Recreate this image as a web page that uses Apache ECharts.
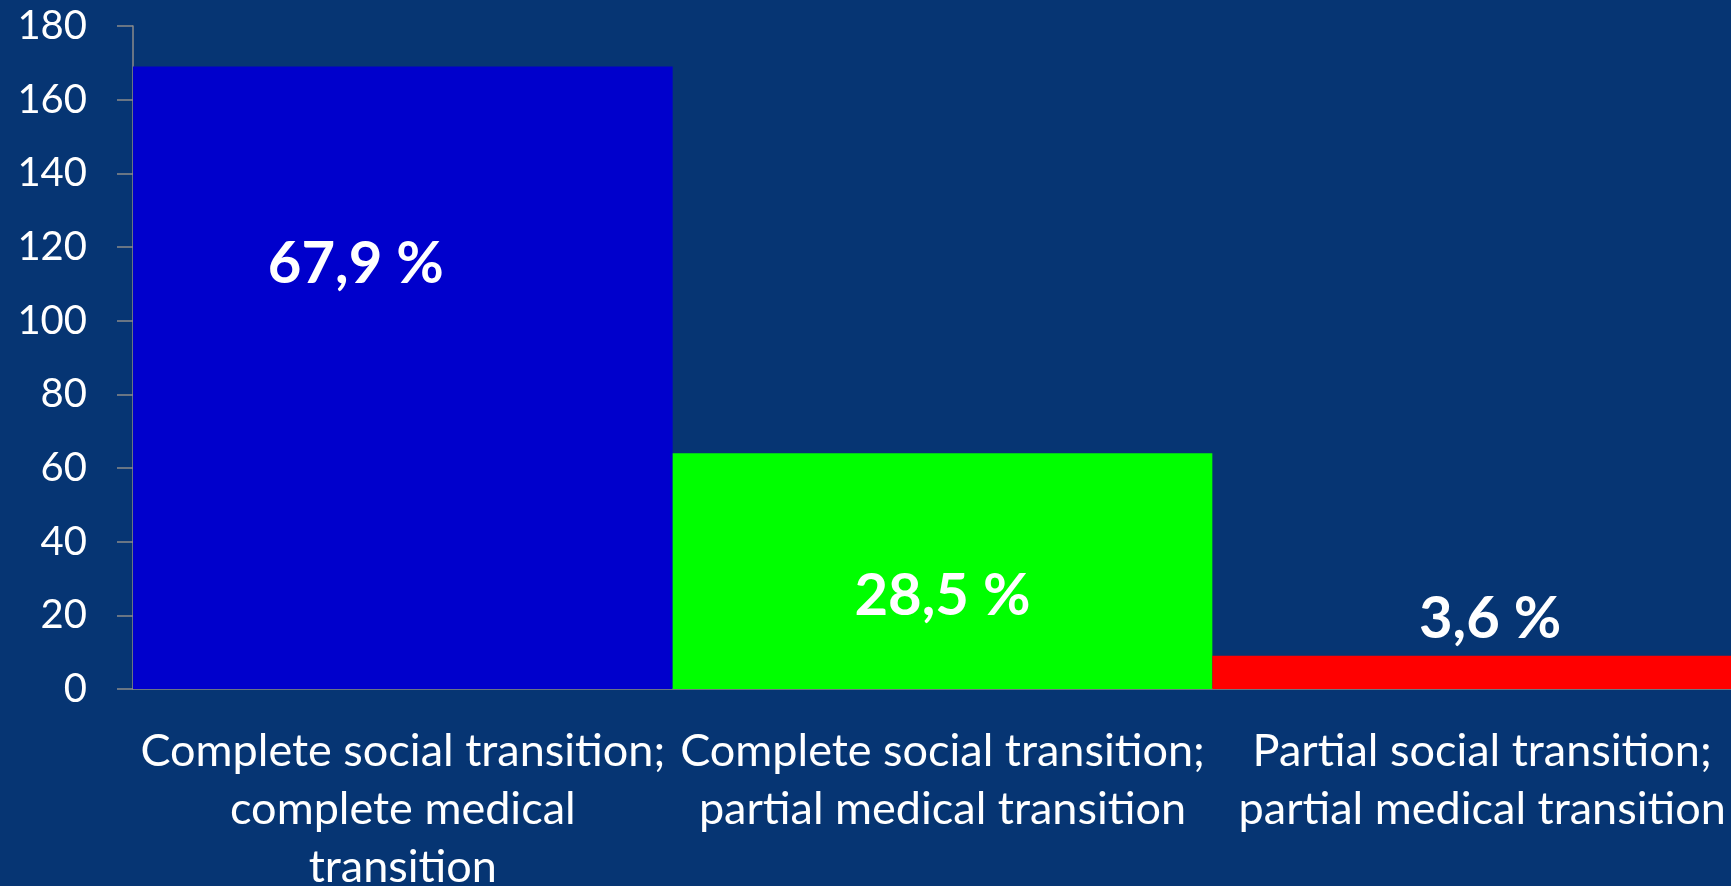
<!DOCTYPE html>
<html><head><meta charset="utf-8">
<script src="https://cdn.jsdelivr.net/npm/echarts@6/dist/echarts.min.js"></script>
<style>html,body{margin:0;padding:0;background:#063573;}#c{width:1731px;height:886px;}</style>
</head><body><div id="c"></div>
<script>
const categories = [
  "Complete social transition;\ncomplete medical\ntransition",
  "Complete social transition;\npartial medical transition",
  "Partial social transition;\npartial medical transition"
];
const values = [169, 64, 9];
const percentLabels = ["67,9 %", "28,5 %", "3,6 %"];
const barColors = ["#0000CC", "#00FF00", "#FF0000"];
const yTicks = { min: 0, max: 180, interval: 20 };

const font = "Lato, 'Open Sans', sans-serif";
const labelCfg = [
  { position: 'inside', offset: [-47, -113] },
  { position: 'inside', offset: [0, 25] },
  { position: 'top', distance: 8, offset: [8, 0] }
];

const chart = echarts.init(document.getElementById('c'));
chart.setOption({
  backgroundColor: '#063573',
  animation: false,
  grid: { left: 133, right: -21, top: 26, bottom: 197, containLabel: false, outerBoundsMode: 'none' },
  xAxis: {
    type: 'category',
    data: categories,
    axisLine: { lineStyle: { color: '#8A8A8A', width: 1.5 } },
    axisTick: { show: false },
    axisLabel: { color: '#FFFFFF', fontFamily: font, fontSize: 45, lineHeight: 58, margin: 33, interval: 0 }
  },
  yAxis: {
    type: 'value',
    min: yTicks.min, max: yTicks.max, interval: yTicks.interval,
    splitLine: { show: false },
    axisLine: { show: true, lineStyle: { color: '#8A8A8A', width: 1.5 } },
    axisTick: { show: true, length: 16, lineStyle: { color: '#8A8A8A', width: 1.5 } },
    axisLabel: { color: '#FFFFFF', fontFamily: font, fontSize: 40, margin: 46 }
  },
  series: [{
    type: 'bar',
    barCategoryGap: '0%',
    data: values.map((v, i) => ({
      value: v,
      itemStyle: { color: barColors[i] },
      label: Object.assign({
        show: true,
        formatter: percentLabels[i],
        color: '#FFFFFF',
        fontFamily: font,
        fontWeight: 'bold',
        fontSize: 58
      }, labelCfg[i])
    }))
  }]
});
</script>
</body></html>
